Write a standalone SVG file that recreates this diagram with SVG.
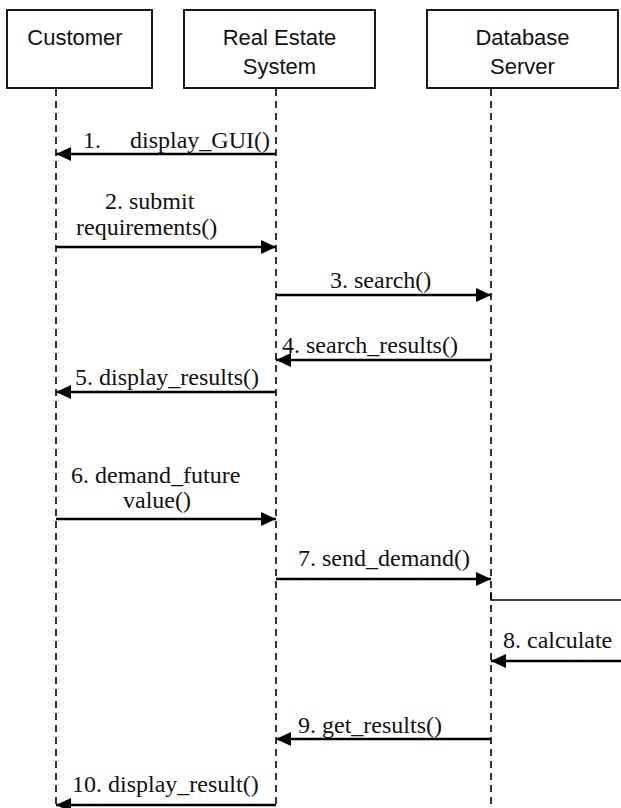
<svg xmlns="http://www.w3.org/2000/svg" width="621" height="808" viewBox="0 0 621 808">
  <style>
    .box { fill: #fff; stroke: #000; stroke-width: 1.8; }
    .head { font-family: "Liberation Sans", Arial, sans-serif; font-size: 22px; fill: #111; text-anchor: middle; }
    .life { stroke: #000; stroke-width: 1.6; stroke-dasharray: 7 5; fill: none; }
    .msg { stroke: #000; stroke-width: 2.6; fill: none; marker-end: url(#arrow); }
    .thin { stroke: #000; stroke-width: 1.6; fill: none; }
    .lbl { font-family: "Liberation Serif", "Times New Roman", serif; font-size: 24px; fill: #111; }
  </style>
  <defs>
    <marker id="arrow" viewBox="0 0 15 14" refX="15" refY="7" markerWidth="15" markerHeight="14" markerUnits="userSpaceOnUse" orient="auto">
      <path d="M0 0 L15 7 L0 14 Z" fill="#000"/>
    </marker>
  </defs>
  <rect width="621" height="808" fill="#fff"/>

  <!-- lifelines -->
  <g id="lifelines">
    <line class="life" x1="56" y1="89" x2="56" y2="808"/>
    <line class="life" x1="276" y1="89" x2="276" y2="808"/>
    <line class="life" x1="491" y1="89" x2="491" y2="808"/>
  </g>

  <!-- participants -->
  <g id="customer">
    <rect class="box" x="7" y="10" width="145" height="78"/>
    <text class="head" x="75" y="45">Customer</text>
  </g>
  <g id="real-estate-system">
    <rect class="box" x="184" y="10" width="191" height="78"/>
    <text class="head" x="279.5" y="45">Real Estate</text>
    <text class="head" x="279.5" y="74">System</text>
  </g>
  <g id="database-server">
    <rect class="box" x="427" y="10" width="191" height="78"/>
    <text class="head" x="522.5" y="45">Database</text>
    <text class="head" x="522.5" y="74">Server</text>
  </g>

  <!-- messages -->
  <g id="connectors">
    <line class="msg" x1="276" y1="154" x2="56" y2="154"/>
    <line class="msg" x1="56" y1="247" x2="276" y2="247"/>
    <line class="msg" x1="276" y1="295" x2="491" y2="295"/>
    <line class="msg" x1="491" y1="360" x2="276" y2="360"/>
    <line class="msg" x1="276" y1="392" x2="56" y2="392"/>
    <line class="msg" x1="56" y1="519" x2="276" y2="519"/>
    <line class="msg" x1="276" y1="579" x2="491" y2="579"/>
    <path class="thin" d="M491 592 V600 H621"/>
    <line class="msg" x1="621" y1="661" x2="491" y2="661"/>
    <line class="msg" x1="491" y1="739" x2="276" y2="739"/>
    <line class="msg" x1="276" y1="805" x2="56" y2="805"/>
  </g>

  <g id="labels">
    <text class="lbl" y="148"><tspan x="83">1.</tspan><tspan x="130">display_GUI()</tspan></text>
    <text class="lbl" x="105" y="209">2. submit</text>
    <text class="lbl" x="76" y="235">requirements()</text>
    <text class="lbl" x="330" y="288">3. search()</text>
    <text class="lbl" x="282" y="353">4. search_results()</text>
    <text class="lbl" x="75" y="385">5. display_results()</text>
    <text class="lbl" x="71" y="483">6. demand_future</text>
    <text class="lbl" x="123" y="508">value()</text>
    <text class="lbl" x="298" y="566">7. send_demand()</text>
    <text class="lbl" x="503" y="648">8. calculate</text>
    <text class="lbl" x="298" y="733">9. get_results()</text>
    <text class="lbl" x="72" y="792">10. display_result()</text>
  </g>
</svg>
